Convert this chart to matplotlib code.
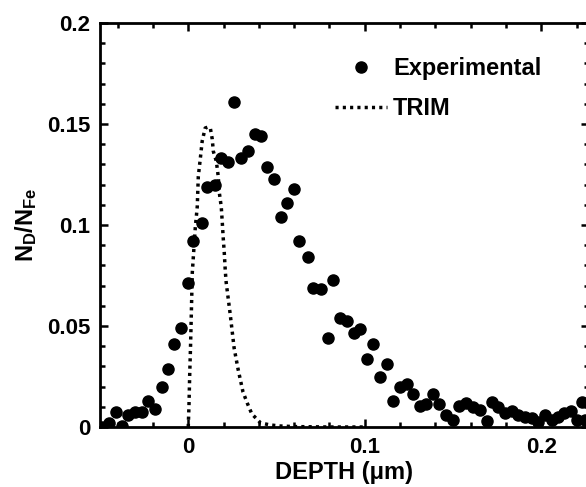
import matplotlib

matplotlib.use("Agg")
import matplotlib.pyplot as plt
from matplotlib.ticker import FuncFormatter, MultipleLocator

# experimental D profile (depth in um, N_D/N_Fe)
exp_depth = [
    -0.0487, -0.0448, -0.0408, -0.0374, -0.034, -0.030, -0.026, -0.0227, -0.0187, -0.0147,
    -0.0113, -0.0079, -0.004, 0.0, 0.0028, 0.0079, 0.0108, 0.0153, 0.0187, 0.0227,
    0.026, 0.030, 0.034, 0.038, 0.0413, 0.0448, 0.0487, 0.0527, 0.056, 0.060,
    0.063, 0.068, 0.0708, 0.0753, 0.0793, 0.0822, 0.0861, 0.090, 0.094, 0.0975,
    0.1014, 0.1048, 0.1088, 0.1127, 0.116, 0.120, 0.124, 0.1275, 0.131, 0.1348,
    0.1388, 0.1422, 0.146, 0.150, 0.1535, 0.1575, 0.1615, 0.165, 0.169, 0.172,
    0.1757, 0.1796, 0.1836, 0.187, 0.191, 0.195, 0.1983, 0.2023, 0.206, 0.2096,
    0.213, 0.217, 0.220, 0.223, 0.225,
]
exp_ratio = [
    0.0, 0.002, 0.0074, 0.0005, 0.006, 0.0074, 0.0074, 0.0129, 0.0089, 0.0199,
    0.0288, 0.0412, 0.0492, 0.0715, 0.0919, 0.1008, 0.119, 0.1197, 0.133, 0.131,
    0.161, 0.133, 0.1365, 0.145, 0.144, 0.1286, 0.123, 0.1038, 0.111, 0.1177,
    0.092, 0.0844, 0.069, 0.0685, 0.0442, 0.073, 0.054, 0.0526, 0.0466, 0.0487,
    0.0338, 0.0412, 0.0248, 0.0313, 0.0129, 0.0199, 0.0213, 0.0164, 0.0104, 0.0114,
    0.0164, 0.0114, 0.006, 0.0035, 0.0104, 0.0119, 0.0099, 0.0084, 0.003, 0.0124,
    0.0099, 0.007, 0.0079, 0.006, 0.005, 0.0045, 0.0025, 0.006, 0.0035, 0.005,
    0.007, 0.0079, 0.0035, 0.0124, 0.0035,
]

# TRIM simulation
trim_depth = [
    0.0, 0.0004, 0.0008, 0.0013, 0.0018, 0.0023, 0.004, 0.0051, 0.0057, 0.0068,
    0.0079, 0.0096, 0.0113, 0.0125, 0.0136, 0.0142, 0.0159, 0.017, 0.0176, 0.0187,
    0.0193, 0.0198, 0.0204, 0.021, 0.0215, 0.0238, 0.026, 0.0283, 0.031, 0.0334,
    0.036, 0.041, 0.0465, 0.052, 0.060, 0.080, 0.100,
]
trim_ratio = [
    0.0, 0.01, 0.025, 0.04, 0.058, 0.0765, 0.0988, 0.109, 0.124, 0.1326,
    0.1415, 0.148, 0.1485, 0.148, 0.1425, 0.1365, 0.1316, 0.124, 0.116, 0.109,
    0.101, 0.0938, 0.0864, 0.077, 0.0715, 0.0556, 0.039, 0.0283, 0.0174, 0.0119,
    0.0065, 0.002, 0.001, 0.0005, 0.0002, 0.0, 0.0,
]

plt.rcParams["font.family"] = ["Liberation Sans", "DejaVu Sans"]
plt.rcParams["font.weight"] = "bold"
plt.rcParams["mathtext.fontset"] = "custom"
plt.rcParams["mathtext.rm"] = "Liberation Sans:bold"
plt.rcParams["mathtext.it"] = "Liberation Sans:bold"
plt.rcParams["mathtext.bf"] = "Liberation Sans:bold"

fig = plt.figure(figsize=(5.86, 4.87), dpi=100)
ax = fig.add_axes([0.1706, 0.1232, 0.8345, 0.8296])

ax.plot(exp_depth, exp_ratio, "o", color="black", markersize=8, label="Experimental")
ax.plot(trim_depth, trim_ratio, color="black", linewidth=2.5,
        linestyle=(0, (0.9, 1.2)), label="TRIM")

ax.set_xlim(-0.05, 0.227)
ax.set_ylim(0, 0.2)
ax.xaxis.set_major_locator(MultipleLocator(0.1))
ax.xaxis.set_minor_locator(MultipleLocator(0.02))
ax.yaxis.set_major_locator(MultipleLocator(0.05))
ax.yaxis.set_minor_locator(MultipleLocator(0.01))
fmt = FuncFormatter(lambda v, pos: f"{v:g}")
ax.xaxis.set_major_formatter(fmt)
ax.yaxis.set_major_formatter(fmt)

ax.tick_params(which="both", direction="in", top=True, right=True, width=1.8)
ax.tick_params(which="major", length=6, labelsize=16, pad=7)
ax.tick_params(which="minor", length=3.5)
for s in ax.spines.values():
    s.set_linewidth(2)

ax.set_xlabel("DEPTH (\u03bcm)", fontsize=17, fontweight="bold", labelpad=2)
ax.set_ylabel(r"$\mathrm{N_D/N_{Fe}}$", fontsize=17, labelpad=6)

leg = ax.legend(loc="upper left", bbox_to_anchor=(0.462, 0.938), frameon=False,
                fontsize=17, handlelength=2.2, handletextpad=0.25, labelspacing=0.72,
                borderaxespad=0.0, markerfirst=True)
for t in leg.get_texts():
    t.set_fontweight("bold")

fig.savefig("out.png", dpi=100)
